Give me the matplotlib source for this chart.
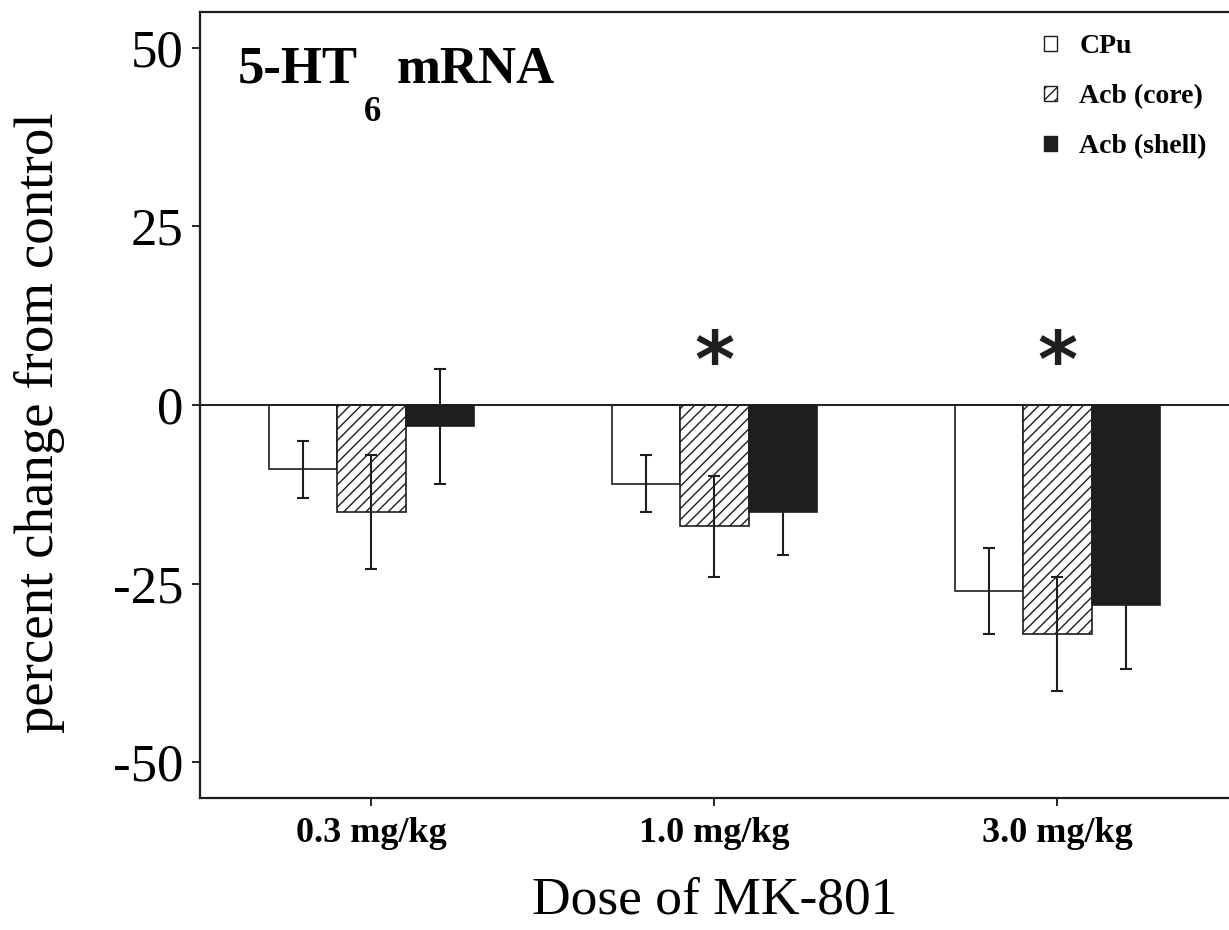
import matplotlib
matplotlib.use('Agg')
import matplotlib.pyplot as plt
import matplotlib.patches as mpatches
import numpy as np

plt.rcParams['font.family'] = ['Liberation Serif', 'DejaVu Serif']
plt.rcParams['axes.unicode_minus'] = False
plt.rcParams['hatch.linewidth'] = 1.0

'''
data read off the figure
'''
doses = ['0.3 mg/kg', '1.0 mg/kg', '3.0 mg/kg']
regions = ['CPu', 'Acb (core)', 'Acb (shell)']

cpu_mean = [-9, -11, -26]
cpu_err = [4, 4, 6]
core_mean = [-15, -17, -32]
core_err = [8, 7, 8]
shell_mean = [-3, -15, -28]
shell_err = [8, 6, 9]

# groups marked significant (asterisk above core bar)
star_groups = [1, 2]
star_y = 5.6

y_ticks = [-50, -25, 0, 25, 50]

BAR_W = 0.2

fig = plt.figure(figsize=(12.29, 9.3), dpi=100)
ax = fig.add_axes([0.1627, 0.1419, 0.8373, 0.8452])

x = np.arange(len(doses))
means = [cpu_mean, core_mean, shell_mean]
errs = [cpu_err, core_err, shell_err]
faces = ['white', 'white', '#1e1e1e']
hatches = [None, '///', None]

for i in range(3):
    pos = x + (i - 1) * BAR_W
    ax.bar(pos, means[i], BAR_W, color=faces[i], edgecolor='#1e1e1e',
           hatch=hatches[i], linewidth=1.2, zorder=2)
    ax.errorbar(pos, means[i], yerr=errs[i], fmt='none', ecolor='#1e1e1e',
                elinewidth=1.5, capsize=4, capthick=1.5, zorder=3)

ax.axhline(0, color='#1e1e1e', linewidth=1.4, zorder=4)

for g in star_groups:
    ax.text(x[g], star_y, '*', ha='center', va='center', fontsize=55,
            fontweight='bold', family='DejaVu Sans', color='#1e1e1e')

ax.set_xlim(-0.5, 2.5)
ax.set_ylim(-55, 55)
ax.set_yticks(y_ticks)
ax.set_yticklabels([str(v) for v in y_ticks], fontsize=38)
ax.set_xticks(x)
ax.set_xticklabels(doses, fontsize=26, fontweight='bold')
ax.tick_params(axis='y', length=6, width=1.2, pad=6, direction='out')
ax.tick_params(axis='x', length=6, width=1.2, pad=8, direction='out')

ax.spines['right'].set_visible(False)
for s in ['left', 'top', 'bottom']:
    ax.spines[s].set_linewidth(1.6)
    ax.spines[s].set_color('#1e1e1e')

ax.set_ylabel('percent change from control', fontsize=39.5)
ax.yaxis.set_label_coords(-0.131, 0.477)
ax.set_xlabel('Dose of MK-801', fontsize=38.5, labelpad=19)

# title with lowered subscript
ax.text(0.037, 0.9097, '5-HT', transform=ax.transAxes, fontsize=38,
        fontweight='bold', va='baseline', ha='left')
ax.text(0.159, 0.8615, '6', transform=ax.transAxes, fontsize=25,
        fontweight='bold', va='baseline', ha='left')
ax.text(0.1914, 0.9097, 'mRNA', transform=ax.transAxes, fontsize=38,
        fontweight='bold', va='baseline', ha='left')

handles = [mpatches.Patch(facecolor=faces[i], edgecolor='#1e1e1e',
                          hatch=hatches[i], linewidth=1.0, label=regions[i])
           for i in range(3)]
leg = ax.legend(handles=handles, loc='upper right', bbox_to_anchor=(1.0, 1.0),
                frameon=False, prop={'weight': 'bold', 'size': 20},
                handlelength=0.47, handleheight=0.47, handletextpad=0.8,
                labelspacing=0.9, borderaxespad=0.4)

fig.savefig('out.png', dpi=100)
